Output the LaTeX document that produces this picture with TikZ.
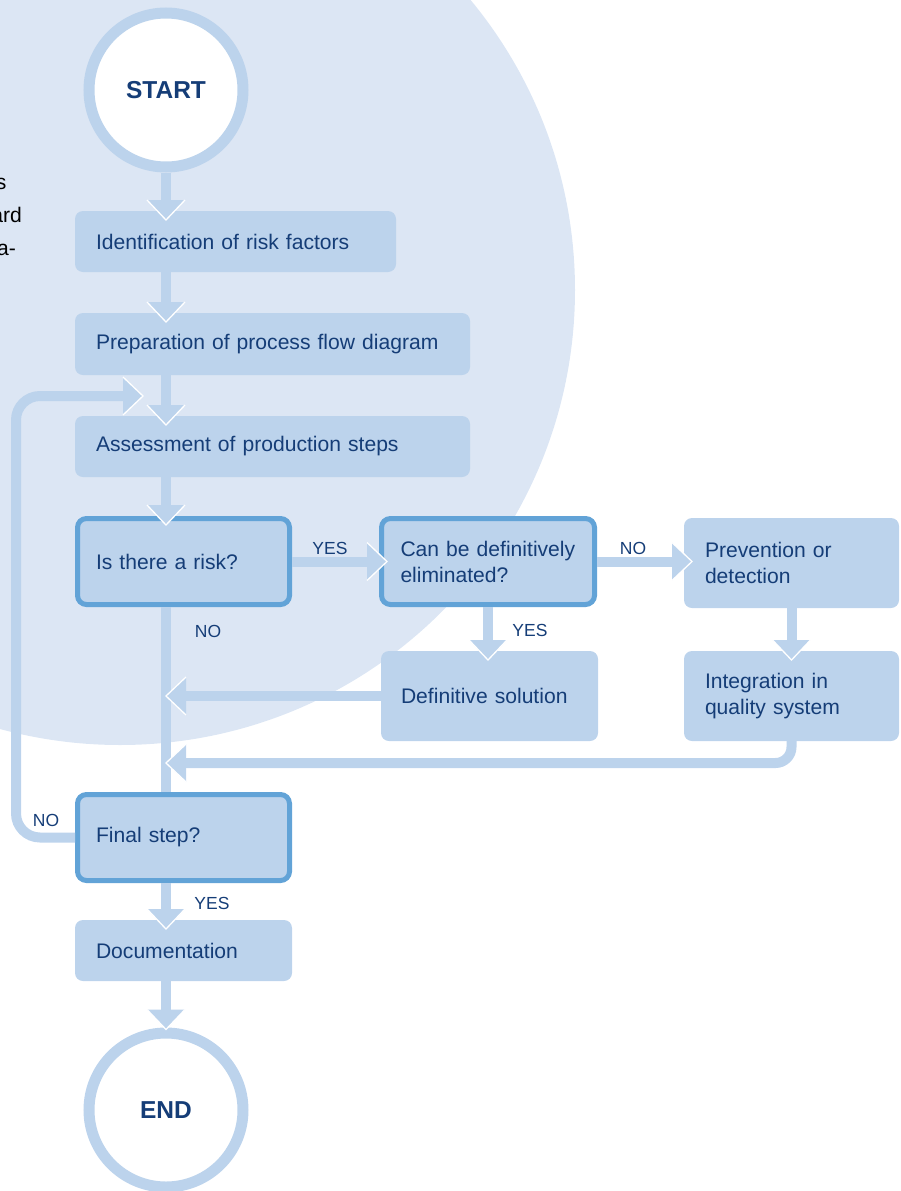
\documentclass[tikz,border=0pt]{standalone}
\usepackage{fontspec}
\setmainfont{Liberation Sans}
\usetikzlibrary{arrows.meta}
\definecolor{bgc}{HTML}{DCE6F4}
\definecolor{flow}{HTML}{BCD3EC}
\definecolor{edge}{HTML}{62A3D7}
\definecolor{txt}{HTML}{153D77}
\pgfdeclarearrow{
  name = Flo,
  parameters = {},
  setup code = {
    \pgfarrowssettipend{0pt}
    \pgfarrowssetlineend{-15pt}
    \pgfarrowssetvisualbackend{-20pt}
    \pgfarrowssetbackend{-20pt}
    \pgfarrowshullpoint{0pt}{0pt}
    \pgfarrowsupperhullpoint{-20pt}{19pt}
  },
  drawing code = {
    \pgfsetfillcolor{flow}
    \pgfpathmoveto{\pgfqpoint{-20pt}{19pt}}
    \pgfpathlineto{\pgfqpoint{0pt}{0pt}}
    \pgfpathlineto{\pgfqpoint{-20pt}{-19pt}}
    \pgfpathclose
    \pgfusepathqfill
    \pgfsetlinewidth{1.3pt}
    \pgfsetstrokecolor{white}
    \pgfsetmiterjoin
    \pgfsetbuttcap
    \pgfpathmoveto{\pgfqpoint{-20pt}{19pt}}
    \pgfpathlineto{\pgfqpoint{0pt}{0pt}}
    \pgfpathlineto{\pgfqpoint{-20pt}{-19pt}}
    \pgfusepathqstroke
  }
}
\begin{document}
\begin{tikzpicture}[x=1pt,y=-1pt,
 box/.style={fill=flow, rounded corners=8pt, anchor=north west, align=left, inner xsep=21pt, inner ysep=0pt, outer sep=0pt, text=txt, font=\fontsize{21.1}{26}\selectfont},
 dec/.style={box, draw=edge, line width=5pt, outer sep=2.5pt, rounded corners=9pt},
 circ/.style={circle, fill=white, draw=flow, line width=11pt, minimum size=154pt, inner sep=0pt, outer sep=5.5pt, text=txt, font=\fontsize{24.5}{28}\selectfont\bfseries},
 flowline/.style={draw=flow, line width=10pt, -{Flo[]}},
 lbl/.style={text=txt, font=\fontsize{17.5}{20}\selectfont, inner sep=0pt},
 frag/.style={anchor=base east, inner sep=0pt, font=\fontsize{21.1}{26}\selectfont}
]
\useasboundingbox (0,0) rectangle (900,1191);
\clip (0,0) rectangle (900,1191);
\fill[bgc] (120,290) circle[radius=455pt];

\node[frag] (f1) at (6.5,189) {s};
\node[frag] (f2) at (22,222) {ard};
\node[frag] (f3) at (16,255) {a-};

\node[circ] (start) at (166,90) {START};
\node[box, text width=279pt, minimum height=61pt] (id) at (75,211) {Identification of risk factors};
\node[box, text width=353pt, minimum height=62pt] (prep) at (75,313) {Preparation of process flow diagram};
\node[box, text width=353pt, minimum height=61pt] (assess) at (75,416) {Assessment of production steps};
\node[dec, inner xsep=18.5pt, text width=175pt, minimum height=86pt] (risk) at (75,516) {Is there a risk?};
\node[dec, inner xsep=19pt, text width=175pt, minimum height=86pt] (elim) at (379,516) {\mbox{Can be definitively}\\eliminated?};
\node[box, text width=173pt, minimum height=90pt] (prev) at (684,518) {Prevention or\\detection};
\node[box, inner xsep=20pt, text width=177pt, minimum height=90pt] (defsol) at (381,651) {Definitive solution};
\node[box, text width=173pt, minimum height=90pt] (integ) at (684,651) {Integration in\\quality system};
\node[dec, inner xsep=18.5pt, text width=175pt, minimum height=86pt] (final) at (75,792) {Final step?};
\node[box, text width=175pt, minimum height=61pt] (doc) at (75,920) {Documentation};
\node[circ] (end) at (166,1110) {END};

\node[lbl] (l1) at (330,548) {YES};
\node[lbl] (l2) at (633,548) {NO};
\node[lbl] (l3) at (530,630) {YES};
\node[lbl] (l4) at (208,631) {NO};
\node[lbl] (l5) at (46,820) {NO};
\node[lbl] (l6) at (212,903) {YES};

\coordinate (j2) at (166,763);
\coordinate (lc) at (16,396);
\coordinate (lp) at (143,396);

\draw[flowline, shorten >=-9pt] (start.south) -- (start.south |- id.north);
\draw[flowline, shorten >=-9pt] (start |- id.south) -- (start |- prep.north);
\draw[flowline, shorten >=-9pt] (start |- prep.south) -- (start |- assess.north);
\draw[flowline, shorten >=-9pt] (start |- assess.south) -- (start |- risk.north);
\draw[flowline, shorten >=-8pt] (risk.east) -- (elim.west);
\draw[flowline, shorten >=-8pt] (elim.east) -- (elim.east -| prev.west);
\draw[flowline, shorten >=-9pt] (elim.south) -- (elim.south |- defsol.north);
\draw[flowline, shorten >=-9pt] (prev.south) -- (prev.south |- integ.north);
\draw[draw=flow, line width=10pt] (start |- risk.south) -- (start |- final.north);
\draw[flowline] (defsol.west) -- (defsol.west -| start);
\draw[flowline, rounded corners=16pt] (integ.south) |- (j2);
\draw[flowline, shorten >=-9pt] (start |- final.south) -- (start |- doc.north);
\draw[flowline, shorten >=-2pt] (start |- doc.south) -- (end.north);
\draw[flowline, rounded corners=24pt] (final.west) -| (lc) -- (lp);
\end{tikzpicture}
\end{document}
